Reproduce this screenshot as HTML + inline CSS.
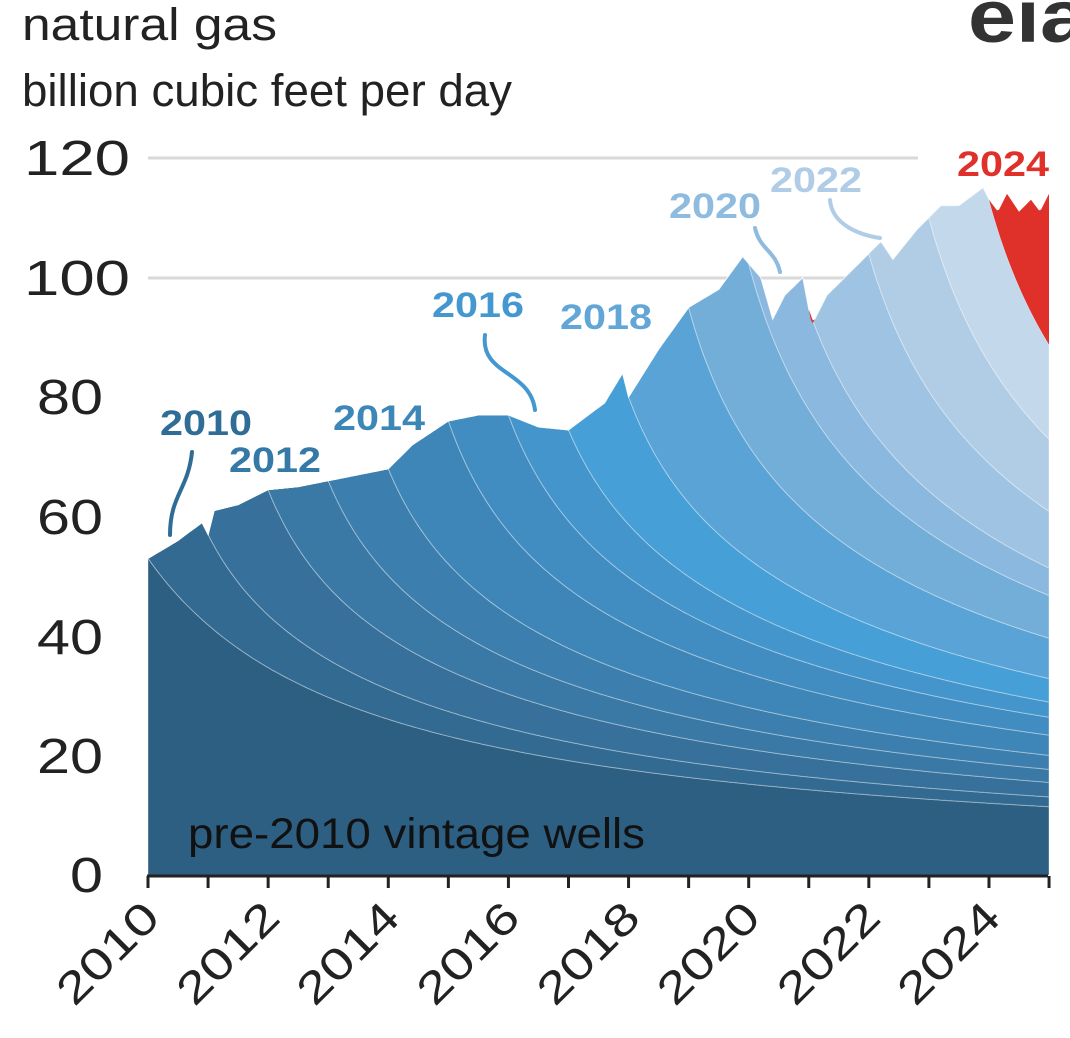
<!DOCTYPE html>
<html><head><meta charset="utf-8"><style>
html,body{margin:0;padding:0;background:#fff;}
body{width:1070px;height:1038px;overflow:hidden;position:relative;font-family:"Liberation Sans",Arial,sans-serif;}
</style></head><body>
<svg id="c" width="1070" height="1038" xmlns="http://www.w3.org/2000/svg" style="position:absolute;left:0;top:0">
<text x="22" y="40" font-size="45" fill="#222" textLength="255" lengthAdjust="spacingAndGlyphs">natural gas</text>
<text x="22" y="106" font-size="45" fill="#222" textLength="490" lengthAdjust="spacingAndGlyphs">billion cubic feet per day</text>
<text x="968" y="42" font-size="74" font-weight="bold" fill="#333" textLength="120" lengthAdjust="spacingAndGlyphs">eia</text>
<line x1="148" y1="158" x2="918" y2="158" stroke="#d9d9d9" stroke-width="3"/>
<line x1="148" y1="278" x2="918" y2="278" stroke="#d9d9d9" stroke-width="3"/>
<g id="areas"></g>
<g font-size="49" fill="#222" text-anchor="end">
<text x="130" y="175" textLength="106" lengthAdjust="spacingAndGlyphs">120</text>
<text x="130" y="295" textLength="106" lengthAdjust="spacingAndGlyphs">100</text>
<text x="103" y="414" textLength="66" lengthAdjust="spacingAndGlyphs">80</text>
<text x="103" y="534" textLength="66" lengthAdjust="spacingAndGlyphs">60</text>
<text x="103" y="654" textLength="66" lengthAdjust="spacingAndGlyphs">40</text>
<text x="103" y="773" textLength="66" lengthAdjust="spacingAndGlyphs">20</text>
<text x="103" y="892" textLength="33" lengthAdjust="spacingAndGlyphs">0</text>
</g>
<line x1="147" y1="876" x2="1048" y2="876" stroke="#222" stroke-width="3"/>
<g id="ticks" stroke="#222" stroke-width="3"></g>
<g id="xl" font-size="44" fill="#222" text-anchor="end"></g>
<text x="188" y="848" font-size="43" fill="#111" textLength="457" lengthAdjust="spacingAndGlyphs">pre-2010 vintage wells</text>
<g font-size="35" font-weight="bold">
<text x="160" y="435" fill="#2f6d97" textLength="92" lengthAdjust="spacingAndGlyphs">2010</text>
<text x="229" y="472" fill="#3579a6" textLength="92" lengthAdjust="spacingAndGlyphs">2012</text>
<text x="333" y="430" fill="#3d87b8" textLength="92" lengthAdjust="spacingAndGlyphs">2014</text>
<text x="432" y="317" fill="#4598cf" textLength="92" lengthAdjust="spacingAndGlyphs">2016</text>
<text x="560" y="329" fill="#62a6d7" textLength="92" lengthAdjust="spacingAndGlyphs">2018</text>
<text x="669" y="218" fill="#8fbbdf" textLength="92" lengthAdjust="spacingAndGlyphs">2020</text>
<text x="770" y="192" fill="#b0cce6" textLength="92" lengthAdjust="spacingAndGlyphs">2022</text>
<text x="957" y="176" fill="#e0302a" textLength="92" lengthAdjust="spacingAndGlyphs">2024</text>
</g>
<g fill="none" stroke-width="4" stroke-linecap="round">
<path d="M192 452 C188 490,170 495,170 535" stroke="#2f6d97"/>
<path d="M485 335 C480 375,530 370,535 410" stroke="#4598cf"/>
<path d="M755 228 C760 250,775 250,780 272" stroke="#8fbbdf"/>
<path d="M830 200 C832 225,860 235,880 238" stroke="#b0cce6"/>
</g>
</svg>
<script>
const X=y=>148+(y-2010)*60.07, Y=v=>875-v*5.975;
const K=[[2010,53],[2010.5,56],[2010.9,59],[2011,57],[2011.1,61],[2011.5,62],[2012,64.5],[2012.5,65],[2013,66],[2013.5,67],[2014,68],[2014.4,72],[2015,76],[2015.5,77],[2016,77],[2016.5,75],[2017,74.5],[2017.6,79],[2017.9,84],[2018,80],[2018.5,88],[2019,95],[2019.5,98],[2019.9,103.5],[2020.2,100],[2020.4,93],[2020.6,97],[2020.9,100],[2021.05,92],[2021.3,97],[2021.6,100],[2022,104],[2022.2,106],[2022.4,103],[2022.8,108],[2023.2,112],[2023.5,112],[2023.9,115],[2024,113],[2024.15,111],[2024.3,114],[2024.5,111],[2024.7,113],[2024.85,111],[2025,114]];
function T(t){for(let i=0;i<K.length-1;i++){if(t<=K[i+1][0]){const a=K[i],b=K[i+1];return a[1]+(b[1]-a[1])*(t-a[0])/(b[0]-a[0]);}}return K[K.length-1][1];}
const N=451,ts=[];for(let i=0;i<N;i++)ts.push(2010+15*i/(N-1));
const g=u=>Math.pow(1+0.9*u,-0.85);
const B=[];
B.push(ts.map(t=>53*Math.pow(1+0.3*(t-2010),-0.9)));
for(let k=2010;k<=2023;k++){const prev=B[B.length-1];const j=ts.findIndex(t=>t>=k+1-1e-9);const A=T(k+1)-prev[j];
B.push(ts.map((t,i)=>{if(t<k)return prev[i];if(t<=k+1)return Math.max(prev[i],T(t));return prev[i]+A*g(t-k-1);}));}
B.push(ts.map(t=>T(t)));
const cols=["#2d5f83","#336a91","#37719b","#3a78a5","#3c7fae","#3f86b8","#418dc1","#4395cb","#469fd6","#5aa3d6","#73aed9","#8ab8de","#9fc3e2","#b1cde6","#c4d8ec","#e0302a"];
let s="";
for(let L=0;L<B.length;L++){const top=B[L],bot=L?B[L-1]:ts.map(()=>0);
let d="M"+ts.map((t,i)=>X(t).toFixed(1)+" "+Y(top[i]).toFixed(1)).join(" L");
for(let i=N-1;i>=0;i--)d+=" L"+X(ts[i]).toFixed(1)+" "+Y(bot[i]).toFixed(1);
s+=`<path d="${d}Z" fill="${cols[L]}" stroke="${L==15?'none':'rgba(255,255,255,0.35)'}" stroke-width="1"/>`;}
document.getElementById('areas').innerHTML=s;
let tk="",xl="";
for(let y=2010;y<=2025;y++){tk+=`<line x1="${X(y)}" y1="876" x2="${X(y)}" y2="888"/>`;}
for(let y=2010;y<=2024;y+=2){const x=X(y)+14;xl+=`<text transform="translate(${x},920) rotate(-45)" textLength="124" lengthAdjust="spacingAndGlyphs">${y}</text>`;}
document.getElementById('ticks').innerHTML=tk;document.getElementById('xl').innerHTML=xl;
</script>
</body></html>
